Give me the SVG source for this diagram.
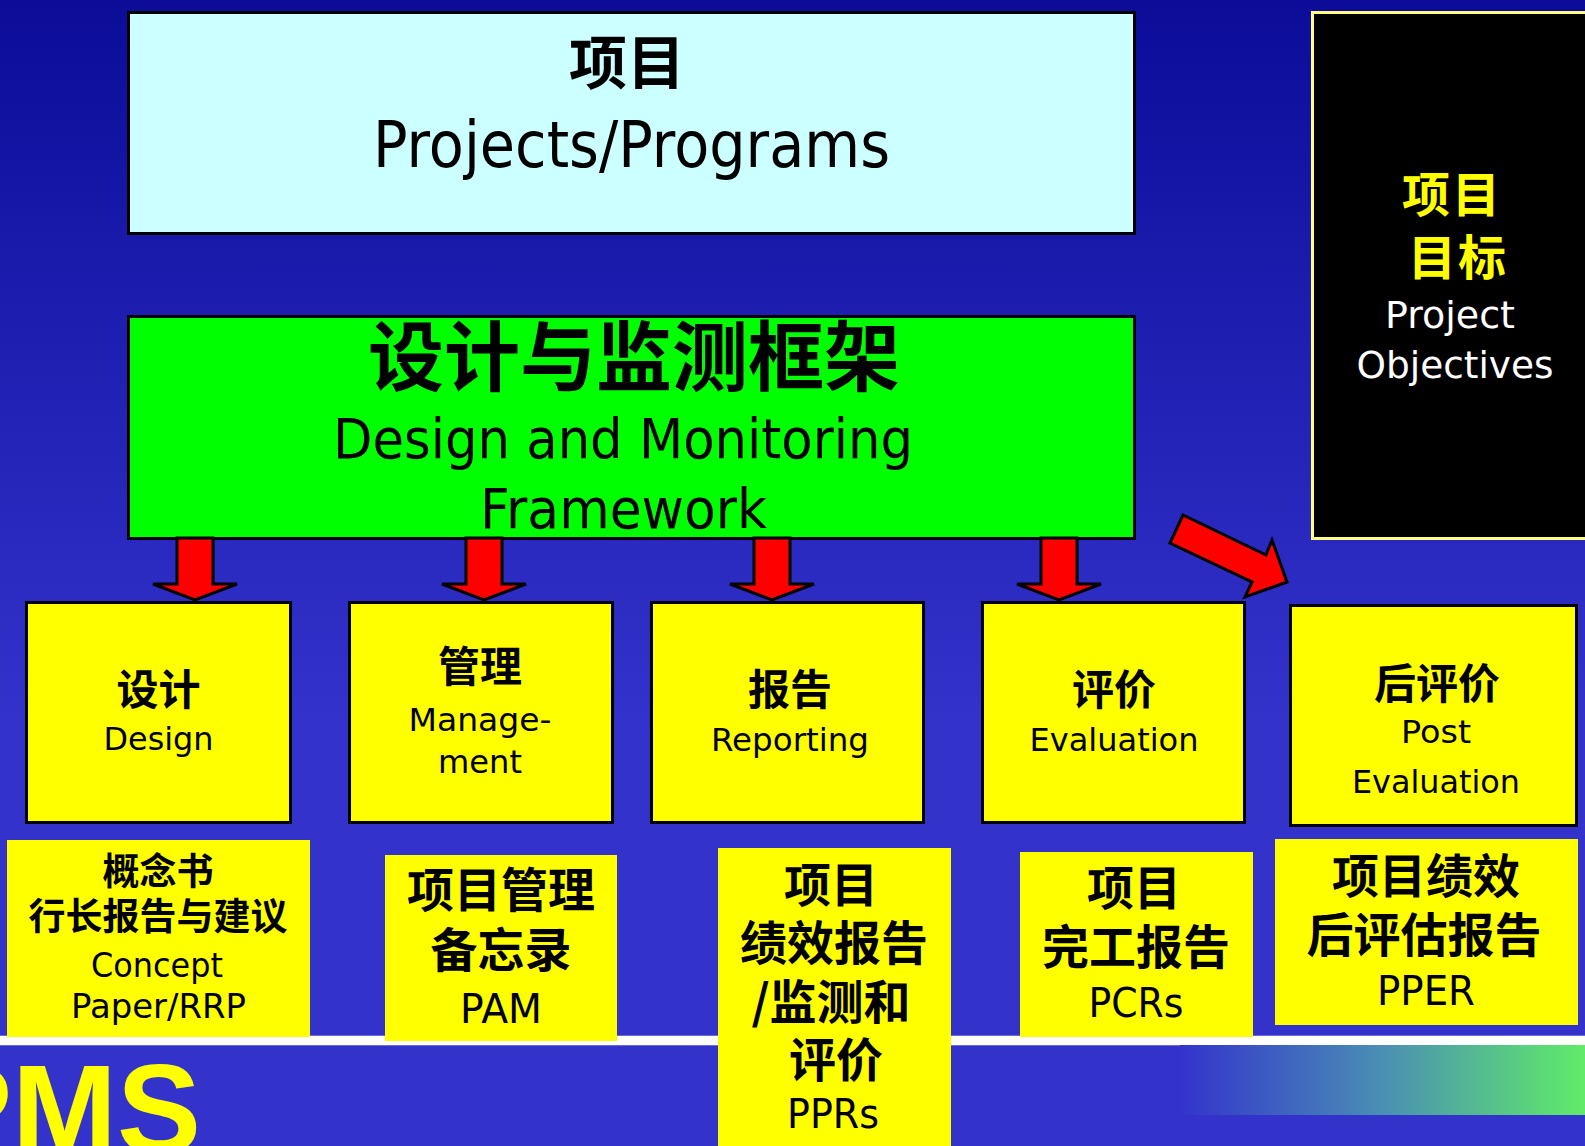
<svg xmlns="http://www.w3.org/2000/svg" width="1585" height="1146" viewBox="0 0 1585 1146">
<defs>
<linearGradient id="bg" x1="0" y1="0" x2="0" y2="1146" gradientUnits="userSpaceOnUse">
<stop offset="0" stop-color="#0c0c99"/>
<stop offset="0.63" stop-color="#3333cc"/>
<stop offset="1" stop-color="#3333cc"/>
</linearGradient>
<linearGradient id="band" x1="1180" y1="0" x2="1585" y2="0" gradientUnits="userSpaceOnUse">
<stop offset="0" stop-color="#3333cc"/>
<stop offset="0.5" stop-color="#4a8fb4"/>
<stop offset="1" stop-color="#60ec68"/>
</linearGradient>
<style>
.cjk{font-family:"Noto Sans CJK SC","Noto Sans CJK TC",sans-serif;font-weight:bold;text-anchor:middle;}
.lat{font-family:"DejaVu Sans","Noto Sans",sans-serif;text-anchor:middle;}
.box{fill:#ffff00;stroke:#000;stroke-width:3;}
.rep{fill:#ffff00;}
.arrow{fill:#ff0000;stroke:#000;stroke-width:3;stroke-linejoin:miter;}
</style>
</defs>
<rect x="0" y="0" width="1585" height="1146" fill="url(#bg)"/>
<rect x="0" y="1035" width="1585" height="11" fill="#6a6ae0"/>
<rect x="0" y="1036" width="1585" height="9" fill="#ffffff"/>
<rect x="1180" y="1045" width="405" height="70" fill="url(#band)"/>
<text x="-72" y="1153" font-family="'Liberation Sans',Arial,sans-serif" font-weight="bold" font-size="126" fill="#ffff00">PMS</text>

<g id="projects">
<rect x="128.5" y="12.5" width="1006" height="221" fill="#ccffff" stroke="#000" stroke-width="3"/>
<text class="cjk" x="627" y="84" font-size="58" fill="#000">项目</text>
<text class="lat" x="631.5" y="167" font-size="64" textLength="517" lengthAdjust="spacingAndGlyphs" fill="#000">Projects/Programs</text>
</g>

<g id="dmf">
<rect x="128.5" y="316.5" width="1006" height="222" fill="#00ff00" stroke="#000" stroke-width="3"/>
<text class="cjk" x="634" y="385" font-size="76" fill="#000">设计与监测框架</text>
<text class="lat" x="623" y="458" font-size="56" textLength="580" lengthAdjust="spacingAndGlyphs" fill="#000">Design and Monitoring</text>
<text class="lat" x="623.5" y="528" font-size="56" textLength="287" lengthAdjust="spacingAndGlyphs" fill="#000">Framework</text>
</g>

<g id="objectives">
<rect x="1312.5" y="12.5" width="300" height="526" fill="#000" stroke="#ffff80" stroke-width="3"/>
<text class="cjk" x="1452" y="212" font-size="48" fill="#ffff00" letter-spacing="2">项目</text>
<text class="cjk" x="1458" y="275" font-size="48" fill="#ffff00" letter-spacing="2">目标</text>
<text class="lat" x="1450" y="328" font-size="38" textLength="130" lengthAdjust="spacingAndGlyphs" fill="#fff">Project</text>
<text class="lat" x="1455" y="378" font-size="38" textLength="197" lengthAdjust="spacingAndGlyphs" fill="#fff">Objectives</text>
</g>

<g id="design">
<rect class="box" x="26.5" y="602.5" width="264" height="220"/>
<text class="cjk" x="158.5" y="705" font-size="42">设计</text>
<text class="lat" x="158.5" y="750" font-size="32" textLength="110" lengthAdjust="spacingAndGlyphs">Design</text>
</g>
<g id="management">
<rect class="box" x="349.5" y="602.5" width="263" height="220"/>
<text class="cjk" x="480" y="682" font-size="42">管理</text>
<text class="lat" x="480" y="731" font-size="32" textLength="143" lengthAdjust="spacingAndGlyphs">Manage-</text>
<text class="lat" x="480" y="773" font-size="32" textLength="84" lengthAdjust="spacingAndGlyphs">ment</text>
</g>
<g id="reporting">
<rect class="box" x="651.5" y="602.5" width="272" height="220"/>
<text class="cjk" x="790" y="705" font-size="42">报告</text>
<text class="lat" x="790" y="751" font-size="32" textLength="158" lengthAdjust="spacingAndGlyphs">Reporting</text>
</g>
<g id="evaluation">
<rect class="box" x="982.5" y="602.5" width="262" height="220"/>
<text class="cjk" x="1114" y="705" font-size="42">评价</text>
<text class="lat" x="1114" y="751" font-size="32" textLength="169" lengthAdjust="spacingAndGlyphs">Evaluation</text>
</g>
<g id="post-evaluation">
<rect class="box" x="1290.5" y="605.5" width="286" height="220"/>
<text class="cjk" x="1437" y="699" font-size="42">后评价</text>
<text class="lat" x="1436" y="743" font-size="32" textLength="70" lengthAdjust="spacingAndGlyphs">Post</text>
<text class="lat" x="1436" y="793" font-size="32" textLength="168" lengthAdjust="spacingAndGlyphs">Evaluation</text>
</g>

<g id="concept-paper">
<rect class="rep" x="7" y="840" width="303" height="197"/>
<text class="cjk" x="158" y="885" font-size="37">概念书</text>
<text class="cjk" x="158" y="930" font-size="37">行长报告与建议</text>
<text class="lat" x="157" y="977" font-size="34" textLength="132" lengthAdjust="spacingAndGlyphs">Concept</text>
<text class="lat" x="158.5" y="1018" font-size="34" textLength="175" lengthAdjust="spacingAndGlyphs">Paper/RRP</text>
</g>
<g id="pam">
<rect class="rep" x="385" y="855" width="232" height="186"/>
<text class="cjk" x="501" y="907" font-size="47">项目管理</text>
<text class="cjk" x="501" y="967" font-size="47">备忘录</text>
<text class="lat" x="501" y="1023" font-size="40" textLength="82" lengthAdjust="spacingAndGlyphs">PAM</text>
</g>
<g id="pprs">
<rect class="rep" x="718" y="848" width="233" height="298"/>
<text class="cjk" x="831" y="902" font-size="47">项目</text>
<text class="cjk" x="834" y="960" font-size="47">绩效报告</text>
<text class="cjk" x="831" y="1019" font-size="47">/监测和</text>
<text class="cjk" x="836" y="1077" font-size="47">评价</text>
<text class="lat" x="833" y="1128" font-size="40" textLength="92" lengthAdjust="spacingAndGlyphs">PPRs</text>
</g>
<g id="pcrs">
<rect class="rep" x="1020" y="852" width="233" height="185"/>
<text class="cjk" x="1134" y="905" font-size="47">项目</text>
<text class="cjk" x="1136" y="964" font-size="47">完工报告</text>
<text class="lat" x="1136" y="1017" font-size="40" textLength="95" lengthAdjust="spacingAndGlyphs">PCRs</text>
</g>
<g id="pper">
<rect class="rep" x="1275" y="839" width="303" height="186"/>
<text class="cjk" x="1426" y="893" font-size="47">项目绩效</text>
<text class="cjk" x="1424" y="952" font-size="47">后评估报告</text>
<text class="lat" x="1426" y="1005" font-size="40" textLength="98" lengthAdjust="spacingAndGlyphs">PPER</text>
</g>

<g id="connectors">
<polygon class="arrow" points="177,538 213,538 213,584 237,584 195,600 153,584 177,584"/>
<polygon class="arrow" points="466,538 502,538 502,584 526,584 484,600 442,584 466,584"/>
<polygon class="arrow" points="754,538 790,538 790,584 814,584 772,600 730,584 754,584"/>
<polygon class="arrow" points="1041,538 1077,538 1077,584 1101,584 1059,600 1017,584 1041,584"/>
<polygon class="arrow" points="1183,515 1266,555 1272,540 1287,582 1245,597 1252,582 1170,543"/>
</g>
</svg>
